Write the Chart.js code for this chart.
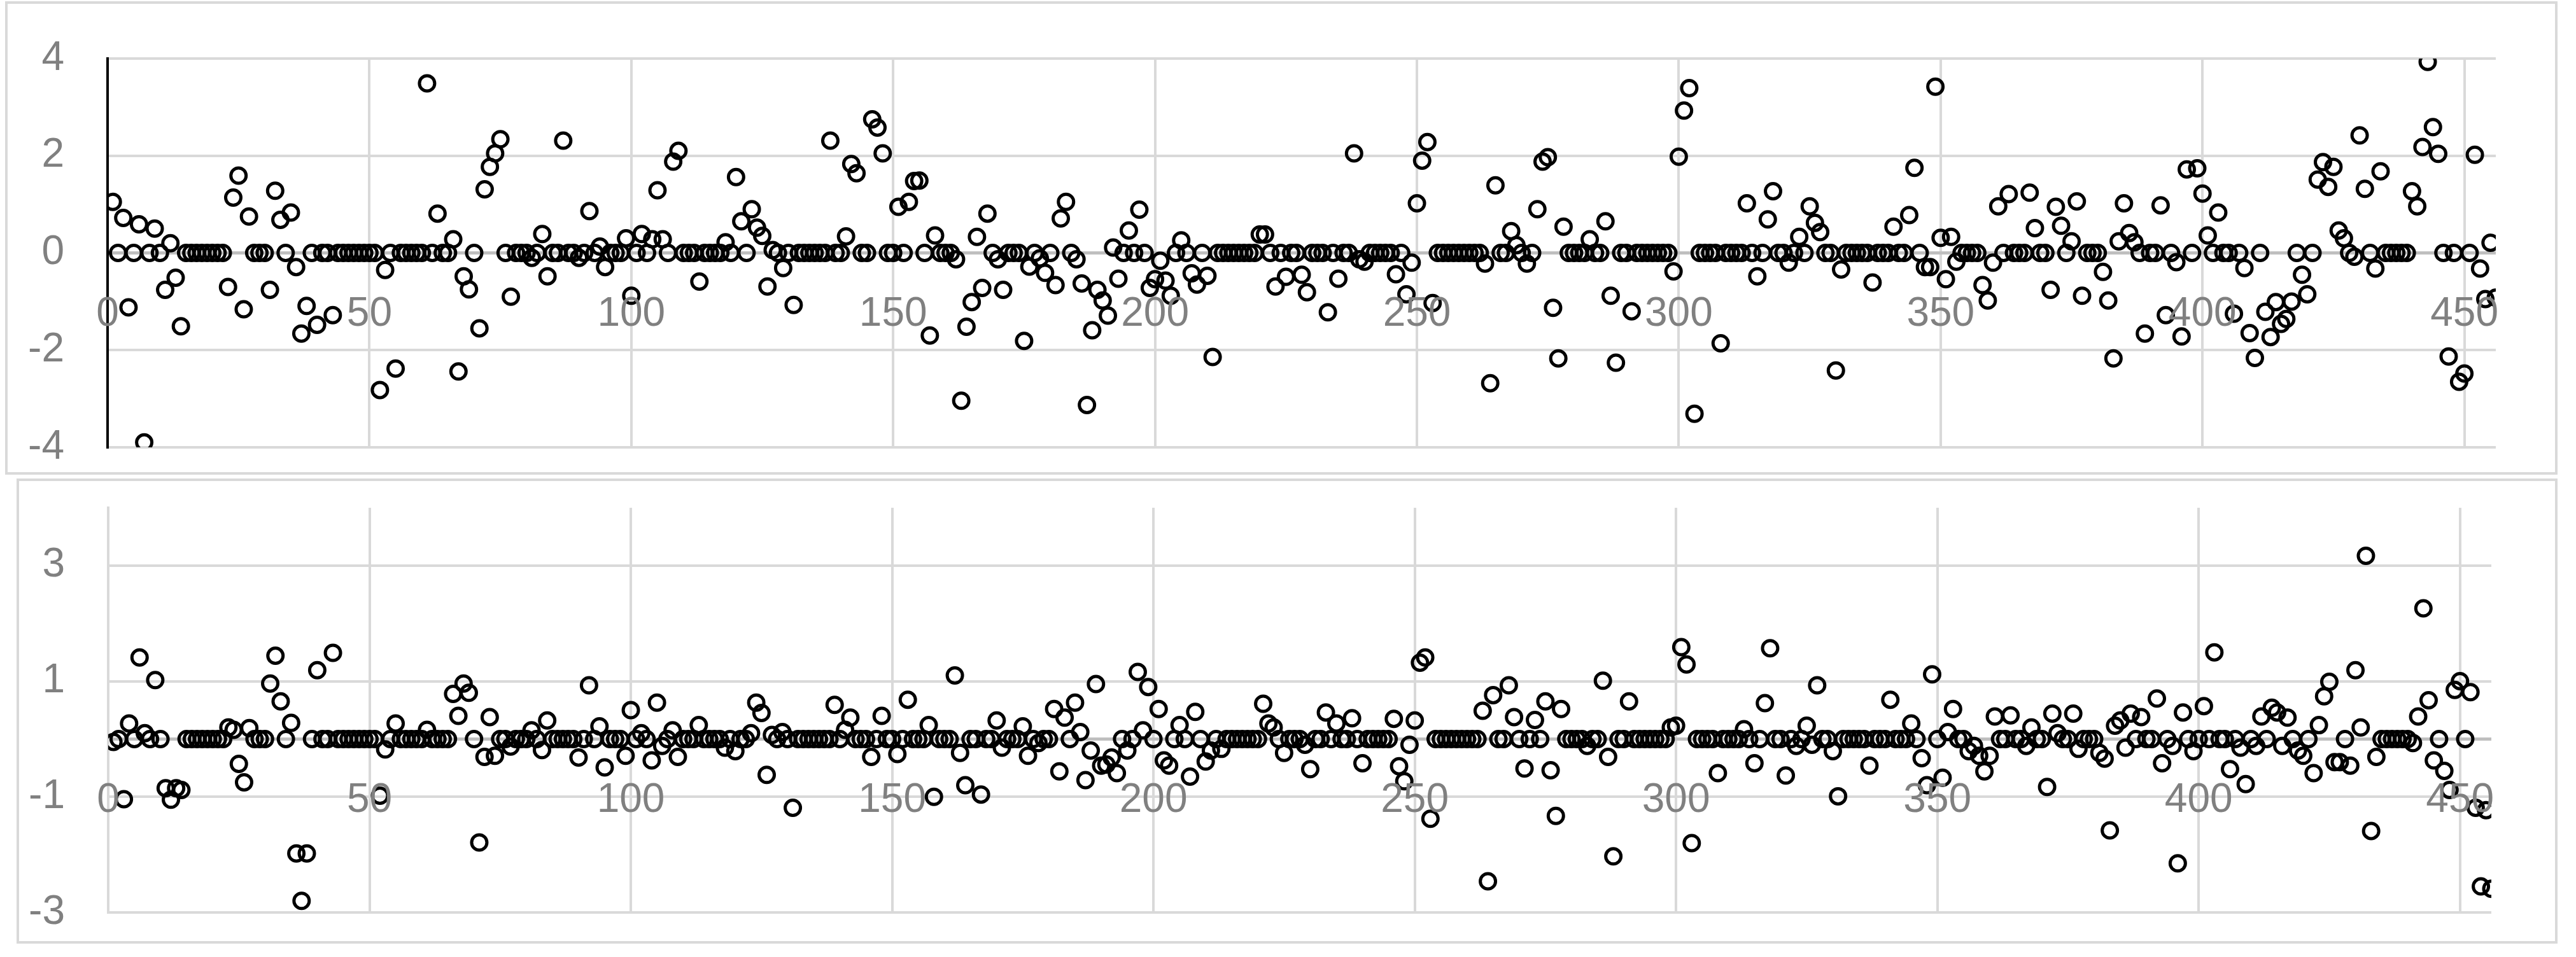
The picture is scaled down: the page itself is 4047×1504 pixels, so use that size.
<!DOCTYPE html>
<html><head><meta charset="utf-8">
<script src="https://cdn.jsdelivr.net/npm/chart.js@4.4.1/dist/chart.umd.min.js"></script>
<style>
html,body{margin:0;padding:0;background:#fff;width:4047px;height:1504px;overflow:hidden;}
.c{position:absolute;left:0;}
.box{position:absolute;border:4px solid #d9d9d9;box-sizing:border-box;}
</style></head><body>
<div class="box" style="left:8px;top:2px;width:4010px;height:744px;"></div>
<div class="box" style="left:26px;top:752px;width:3992px;height:731px;"></div>
<canvas id="c1" class="c" style="top:0" width="4047" height="750"></canvas>
<canvas id="c2" class="c" style="top:750px" width="4047" height="754"></canvas>
<script>
const xTicks=[0,50,100,150,200,250,300,350,400,450];
const topTicks=[-4,-2,0,2,4];
const bottomTicks=[-3,-1,0,1,3];
const topValues=[
1.05,0,0.72,-1.12,0,0.59,-3.9,0,0.5,0,
-0.76,0.2,-0.51,-1.51,0,0,0,0,0,0,
0,0,-0.7,1.14,1.59,-1.16,0.75,0,0,0,
-0.76,1.28,0.68,0,0.83,-0.29,-1.66,-1.09,0,-1.48,
0,0,-1.28,0,0,0,0,0,0,0,
0,-2.82,-0.35,0,-2.38,0,0,0,0,0,
3.49,0,0.81,0,0,0.28,-2.44,-0.48,-0.75,0,
-1.55,1.31,1.77,2.05,2.34,0,-0.9,0,0,0,
-0.1,0,0.39,-0.48,0,0,2.31,0,0,-0.1,
0,0.86,0,0.13,-0.29,0,0,0,0.3,-0.88,
0,0.39,0,0.28,1.29,0.28,0,1.88,2.1,0,
0,0,-0.59,0,0,0,0,0.22,0,1.56,
0.65,0,0.9,0.52,0.35,-0.69,0.06,0,-0.31,0,
-1.07,0,0,0,0,0,0,2.31,0,0,
0.34,1.83,1.64,0,0,2.75,2.58,2.05,0,0,
0.95,0,1.05,1.48,1.49,0,-1.7,0.36,0,0,
0,-0.13,-3.04,-1.52,-1.01,0.33,-0.72,0.81,0,-0.13,
-0.76,0,0,0,-1.81,-0.28,0,-0.11,-0.41,0,
-0.66,0.71,1.05,0,-0.13,-0.63,-3.13,-1.59,-0.76,-0.98,
-1.29,0.11,-0.53,0,0.46,0,0.89,0,-0.72,-0.54,
-0.16,-0.57,-0.88,0,0.26,0,-0.42,-0.65,0,-0.47,
-2.14,0,0,0,0,0,0,0,0,0.38,
0.38,0,-0.69,0,-0.49,0,0,-0.45,-0.81,0,
0,0,-1.22,0,-0.53,0,0,2.05,-0.13,-0.18,
0,0,0,0,0,-0.44,0,-0.85,-0.2,1.02,
1.9,2.28,-1.03,0,0,0,0,0,0,0,
0,0,-0.22,-2.68,1.39,0,0,0.45,0.16,0,
-0.22,0,0.9,1.88,1.97,-1.13,-2.17,0.54,0,0,
0,0,0.28,0,0,0.65,-0.88,-2.26,0,0,
-1.2,0,0,0,0,0,0,0,-0.38,1.98,
2.93,3.39,-3.31,0,0,0,0,-1.86,0,0,
0,0,1.02,0,-0.48,0,0.69,1.27,0,0,
-0.2,0,0.33,0,0.96,0.62,0.43,0,0,-2.42,
-0.34,0,0,0,0,0,-0.61,0,0,0,
0.54,0,0,0.78,1.75,0,-0.29,-0.29,3.42,0.31,
-0.54,0.33,-0.18,0,0,0,0,-0.66,-0.98,-0.2,
0.96,0,1.21,0,0,0,1.24,0.51,0,0,
-0.76,0.95,0.56,0,0.24,1.06,-0.88,0,0,0,
-0.39,-0.98,-2.17,0.24,1.02,0.41,0.22,0,-1.66,0,
0,0.98,-1.28,0,-0.19,-1.72,1.72,0,1.74,1.22,
0.36,0,0.83,0,0,-1.25,0,-0.31,-1.65,-2.16,
0,-1.21,-1.73,-1.01,-1.46,-1.36,-1.0,0,-0.45,-0.85,
0,1.51,1.87,1.36,1.77,0.46,0.3,0,-0.08,2.42,
1.32,0,-0.32,1.68,0,0,0,0,0,1.27,
0.96,2.18,3.93,2.59,2.04,0,-2.13,0,-2.65,-2.48,
0,2.02,-0.32,-0.95,0.21,-0.92];
const bottomValues=[
-0.05,0,-1.04,0.27,0,1.41,0.1,0,1.02,0,
-0.85,-1.05,-0.85,-0.88,0,0,0,0,0,0,
0,0,0.2,0.16,-0.43,-0.75,0.19,0,0,0,
0.96,1.44,0.65,0,0.28,-1.98,-2.8,-1.98,0,1.19,
0,0,1.49,0,0,0,0,0,0,0,
0,-0.98,-0.18,0,0.27,0,0,0,0,0,
0.16,0,0,0,0,0.78,0.4,0.96,0.8,0,
-1.79,-0.31,0.38,-0.29,0,0,-0.13,0,0,0,
0.15,0,-0.19,0.32,0,0,0,0,0,-0.32,
0,0.93,0,0.22,-0.49,0,0,0,-0.29,0.5,
0,0.1,0,-0.37,0.63,-0.12,0,0.15,-0.31,0,
0,0,0.24,0,0,0,0,-0.15,0,-0.21,
0,0,0.1,0.63,0.45,-0.62,0.07,0,0.12,0,
-1.19,0,0,0,0,0,0,0,0.59,0,
0.16,0.37,0,0,0,-0.31,0,0.4,0,0,
-0.26,0,0.68,0,0,0,0.24,-1.0,0,0,
0,1.1,-0.24,-0.8,0,0,-0.96,0,0,0.32,
-0.15,0,0,0,0.22,-0.29,0,-0.07,0,0,
0.52,-0.56,0.37,0,0.63,0.12,-0.71,-0.2,0.95,-0.46,
-0.44,-0.32,-0.59,0,-0.2,0,1.16,0.15,0.9,0,
0.52,-0.37,-0.46,0,0.24,0,-0.65,0.47,0,-0.39,
-0.2,0,-0.17,0,0,0,0,0,0,0,
0.61,0.27,0.2,0,-0.24,0,0,0,-0.1,-0.52,
0,0,0.46,0,0.27,0,0,0.36,0,-0.42,
0,0,0,0,0,0.35,-0.47,-0.73,-0.1,0.32,
1.32,1.41,-1.38,0,0,0,0,0,0,0,
0,0,0.49,-2.46,0.76,0,0,0.93,0.38,0,
-0.51,0,0.33,0,0.65,-0.54,-1.33,0.52,0,0,
0,0,-0.12,0,0,1.01,-0.31,-2.03,0,0,
0.65,0,0,0,0,0,0,0,0.2,0.23,
1.59,1.29,-1.8,0,0,0,0,-0.59,0,0,
0,0,0.17,0,-0.42,0,0.62,1.57,0,0,
-0.63,0,-0.12,0,0.23,-0.1,0.93,0,0,-0.21,
-0.99,0,0,0,0,0,-0.46,0,0,0,
0.68,0,0,0,0.27,0,-0.33,-0.8,1.12,0,
-0.67,0.12,0.52,0,0,-0.21,-0.12,-0.29,-0.56,-0.29,
0.39,0,0,0.41,0,0,-0.12,0.2,0,0,
-0.83,0.44,0.1,0,0,0.44,-0.17,0,0,0,
-0.24,-0.34,-1.58,0.23,0.32,-0.15,0.44,0,0.38,0,
0,0.7,-0.42,0,-0.12,-2.15,0.46,0,-0.21,0,
0.57,0,1.5,0,0,-0.52,0,-0.15,-0.78,0,
-0.12,0.39,0,0.54,0.46,-0.12,0.37,0,-0.2,-0.29,
0,-0.59,0.24,0.74,0.99,-0.4,-0.4,0,-0.46,1.19,
0.2,3.17,-1.59,-0.31,0,0,0,0,0,0,
-0.07,0.39,2.26,0.67,-0.37,0,-0.55,-0.88,0.85,1.0,
0,0.81,-1.19,-2.55,-1.23,-2.59];

const FONT={family:"'Liberation Sans Narrow','Liberation Sans',sans-serif",size:64};
// draws the x tick labels just below the y=0 axis line, as in the reference
const zeroAxisLabels={id:'zeroAxisLabels',afterDraw(chart){
  const {ctx,scales:{x,y}}=chart; const y0=y.getPixelForValue(0);
  ctx.save(); ctx.font=FONT.size+'px '+FONT.family; ctx.fillStyle='#808080';
  ctx.textAlign='center'; ctx.textBaseline='middle';
  xTicks.forEach(v=>ctx.fillText(String(v),x.getPixelForValue(v),y0+97));
  ctx.restore();
}};
function makeChart(id,values,yMin,yMax,yTicks,yBorderColor,pad,yw){
  return new Chart(document.getElementById(id),{
    type:'scatter',
    data:{datasets:[{data:values.map((v,i)=>({x:i+1,y:v})),
      pointStyle:'circle',pointRadius:12,pointHoverRadius:12,borderColor:'#000',
      backgroundColor:'rgba(0,0,0,0)',borderWidth:5}]},
    plugins:[zeroAxisLabels],
    options:{responsive:false,animation:false,devicePixelRatio:1,
      layout:{padding:pad},
      plugins:{legend:{display:false},tooltip:{enabled:false}},
      scales:{
        x:{type:'linear',min:0,max:456,position:'bottom',
          afterBuildTicks:s=>{s.ticks=xTicks.map(v=>({value:v}));},
          afterFit:s=>{s.height=0;s.paddingLeft=0;s.paddingRight=0;},
          grid:{color:'#d9d9d9',lineWidth:4,drawTicks:false},
          border:{display:false},
          ticks:{display:false}},
        y:{type:'linear',min:yMin,max:yMax,
          afterBuildTicks:s=>{s.ticks=yTicks.map(v=>({value:v}));},
          afterFit:s=>{s.width=yw;s.paddingTop=0;s.paddingBottom=0;},
          grid:{color:c=>c.tick&&c.tick.value===0?'#bfbfbf':'#d9d9d9',
                lineWidth:c=>c.tick&&c.tick.value===0?5:4,drawTicks:false},
          border:{color:yBorderColor,width:4},
          ticks:{color:'#808080',font:FONT,padding:68,
                 callback:v=>(yMin===-3&&v===0)?'':String(v)}}
      }}
  });
}
makeChart('c1',topValues,-4,4,topTicks,'#000',{left:0,right:126,top:92,bottom:47},169);
makeChart('c2',bottomValues,-3,4,bottomTicks,'#d9d9d9',{left:0,right:133,top:48,bottom:70},170);
</script></body></html>
